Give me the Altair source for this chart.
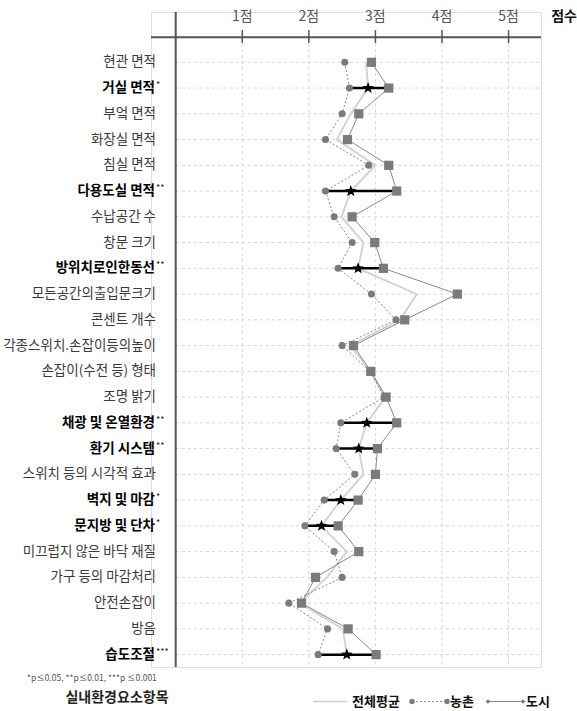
import altair as alt
import pandas as pd

# ---------------- data ----------------
items = ["현관 면적", "거실 면적", "부엌 면적", "화장실 면적", "침실 면적", "다용도실 면적",
         "수납공간 수", "창문 크기", "방위치로인한동선", "모든공간의출입문크기", "콘센트 개수",
         "각종스위치.손잡이등의높이", "손잡이(수전 등) 형태", "조명 밝기", "채광 및 온열환경",
         "환기 시스템", "스위치 등의 시각적 효과", "벽지 및 마감", "문지방 및 단차",
         "미끄럽지 않은 바닥 재질", "가구 등의 마감처리", "안전손잡이", "방음", "습도조절"]
sig = ["", "*", "", "", "", "**", "", "", "**", "", "", "", "", "", "**", "**", "",
       "*", "*", "", "", "", "", "***"]
rural = [2.54, 2.61, 2.50, 2.25, 2.90, 2.25, 2.38, 2.65, 2.44, 2.94, 3.31, 2.50,
         2.92, 3.13, 2.48, 2.41, 2.69, 2.23, 1.94, 2.38, 2.50, 1.70, 2.28, 2.14]
urban = [2.94, 3.20, 2.75, 2.58, 3.20, 3.32, 2.65, 2.99, 3.12, 4.23, 3.44, 2.67,
         2.93, 3.16, 3.32, 3.03, 3.00, 2.74, 2.44, 2.75, 2.10, 1.89, 2.59, 3.01]
overall = [2.86, 2.89, 2.63, 2.42, 3.00, 2.63, 2.49, 2.82, 2.74, 3.62, 3.37, 2.62,
           2.93, 3.15, 2.87, 2.75, 2.82, 2.48, 2.19, 2.57, 2.27, 1.86, 2.51, 2.57]
tick_values = [1, 2, 3, 4, 5]
tick_labels = ["1점", "2점", "3점", "4점", "5점"]
axis_title = "점수"
row_title = "실내환경요소항목"
note = "*p≤0.05, **p≤0.01, ***p ≤0.001"
legend_names = ["전체평균", "농촌", "도시"]

# ---------------- table ----------------
df = pd.DataFrame({"item": items, "row": list(range(len(items))), "sig": sig,
                   "rural": rural, "urban": urban, "overall": overall})
df["is_sig"] = df["sig"] != ""
df["lo"] = df[["rural", "urban"]].min(axis=1)
df["hi"] = df[["rural", "urban"]].max(axis=1)
ticks_df = pd.DataFrame({"v": tick_values, "lab": tick_labels})

X0, X1 = -0.371, 5.487
Y0, Y1 = -1.953, 23.48
AXIS_Y = -0.971
FONT = "Noto Sans CJK KR"
GREY = "#7b7b7b"

xs = alt.Scale(domain=[X0, X1], nice=False, zero=False)
ys = alt.Scale(domain=[Y0, Y1], nice=False, zero=False, reverse=True)


def X(field, **kw):
    return alt.X(field, type="quantitative", scale=xs, axis=None, **kw)


def Y(field, **kw):
    return alt.Y(field, type="quantitative", scale=ys, axis=None, **kw)


base = alt.Chart(df)
tbase = alt.Chart(ticks_df)
one = pd.DataFrame({"a": [0]})

hgrid = base.mark_rule(color="#d6d6d6", strokeDash=[3, 3], strokeWidth=1).encode(
    y=Y("row"), x=alt.X(datum=0, type="quantitative", scale=xs, axis=None),
    x2=alt.X2(datum=X1))
vgrid = tbase.mark_rule(color="#d6d6d6", strokeDash=[3, 3], strokeWidth=1).encode(
    x=X("v"), y=alt.Y(datum=AXIS_Y, type="quantitative", scale=ys, axis=None),
    y2=alt.Y2(datum=Y1))
hline = alt.Chart(one).mark_rule(color="#555555", strokeWidth=2).encode(
    x=alt.X(datum=X0, type="quantitative", scale=xs, axis=None), x2=alt.X2(datum=X1),
    y=alt.Y(datum=AXIS_Y, type="quantitative", scale=ys, axis=None))
vline = alt.Chart(one).mark_rule(color="#555555", strokeWidth=2).encode(
    x=alt.X(datum=0, type="quantitative", scale=xs, axis=None),
    y=alt.Y(datum=Y0, type="quantitative", scale=ys, axis=None), y2=alt.Y2(datum=Y1))
tickmarks = tbase.mark_rule(color="#555555", strokeWidth=1.5).encode(
    x=X("v"), y=alt.Y(datum=AXIS_Y - 0.28, type="quantitative", scale=ys, axis=None),
    y2=alt.Y2(datum=AXIS_Y + 0.22))
ticklabels = tbase.mark_text(font=FONT, fontSize=14, color="#555555", baseline="middle").encode(
    x=X("v"), y=alt.Y(datum=-1.76, type="quantitative", scale=ys, axis=None), text="lab:N")
xtitle = alt.Chart(pd.DataFrame({"t": [axis_title]})).mark_text(
    font=FONT, fontSize=14, fontWeight="bold", color="#111111", baseline="middle", align="center").encode(
    x=alt.value(413), y=alt.value(5), text="t:N")

line_all = base.mark_line(color="#d3d3d3", strokeWidth=2).encode(
    x=X("overall"), y=Y("row"), order="row:Q")
line_rural = base.mark_line(color="#8a8a8a", strokeWidth=1, strokeDash=[2, 2]).encode(
    x=X("rural"), y=Y("row"), order="row:Q")
line_urban = base.mark_line(color="#8a8a8a", strokeWidth=1).encode(
    x=X("urban"), y=Y("row"), order="row:Q")
sigbar = base.transform_filter("datum.is_sig").mark_rule(color="#000000", strokeWidth=2.5).encode(
    x=X("lo"), x2="hi:Q", y=Y("row"))
pts_rural = base.mark_point(shape="circle", filled=True, size=50, color=GREY, opacity=1).encode(
    x=X("rural"), y=Y("row"))
pts_urban = base.mark_point(shape="square", filled=True, size=85, color=GREY, opacity=1).encode(
    x=X("urban"), y=Y("row"))
STAR = ("M0,-1L0.247,-0.34L0.951,-0.309L0.399,0.13L0.588,0.809L0,0.42L-0.588,0.809"
        "L-0.399,0.13L-0.951,-0.309L-0.247,-0.34Z")
stars = base.transform_filter("datum.is_sig").mark_point(
    shape=STAR, filled=True, size=150, color="#000000", opacity=1).encode(
    x=X("overall"), y=Y("row"))

lab_norm = base.transform_filter("!datum.is_sig").mark_text(
    font=FONT, fontSize=13.5, color="#3a3a3a", align="right", baseline="middle").encode(
    x=alt.value(5), y=Y("row"), text="item:N")
lab_sig = base.transform_filter("datum.is_sig").mark_text(
    font=FONT, fontSize=13.5, fontWeight="bold", color="#000000", align="right", baseline="middle").encode(
    x=alt.value(4), y=Y("row"), text="item:N")
lab_ast = base.transform_filter("datum.is_sig").mark_text(
    font=FONT, fontSize=9, color="#222222", align="left", baseline="middle", dy=-3).encode(
    x=alt.value(5), y=Y("row"), text="sig:N")

note_t = alt.Chart(pd.DataFrame({"t": [note]})).mark_text(
    font=FONT, fontSize=8.5, color="#555555", align="left", baseline="middle").encode(
    x=alt.value(-124), y=alt.value(666), text="t:N")
rtitle = alt.Chart(pd.DataFrame({"t": [row_title]})).mark_text(
    font=FONT, fontSize=14, fontWeight="bold", color="#222222", align="center", baseline="middle").encode(
    x=alt.value(-34), y=alt.value(686), text="t:N")

LY = 689.5
leg_line1 = alt.Chart(one).mark_rule(color="#cfcfcf", strokeWidth=1.5).encode(
    x=alt.value(162), x2=alt.value(196), y=alt.value(LY))
leg_line2 = alt.Chart(one).mark_rule(color="#8a8a8a", strokeWidth=1, strokeDash=[2, 2]).encode(
    x=alt.value(261), x2=alt.value(296), y=alt.value(LY))
leg_line3 = alt.Chart(one).mark_rule(color="#8a8a8a", strokeWidth=1).encode(
    x=alt.value(337), x2=alt.value(372), y=alt.value(LY))
leg_c1 = alt.Chart(one).mark_point(shape="circle", filled=True, size=30, color=GREY, opacity=1).encode(
    x=alt.value(261), y=alt.value(LY))
leg_c2 = alt.Chart(one).mark_point(shape="circle", filled=True, size=30, color=GREY, opacity=1).encode(
    x=alt.value(296), y=alt.value(LY))
leg_d1 = alt.Chart(one).mark_point(shape="diamond", filled=True, size=22, color=GREY, opacity=1).encode(
    x=alt.value(337), y=alt.value(LY))
leg_d2 = alt.Chart(one).mark_point(shape="diamond", filled=True, size=22, color=GREY, opacity=1).encode(
    x=alt.value(372), y=alt.value(LY))
leg_df = pd.DataFrame({"t": legend_names, "px": [201, 299, 375]})
leg_txt = alt.Chart(leg_df).mark_text(font=FONT, fontSize=13, fontWeight="bold", color="#111111",
                                      align="left", baseline="middle").encode(
    x=alt.X("px:Q", scale=None, axis=None), y=alt.value(LY), text="t:N")

chart = alt.layer(
    hgrid, vgrid, hline, vline, tickmarks, ticklabels, xtitle,
    line_all, line_rural, line_urban, sigbar, pts_rural, pts_urban, stars,
    lab_norm, lab_sig, lab_ast, note_t, rtitle,
    leg_line1, leg_line2, leg_line3, leg_c1, leg_c2, leg_d1, leg_d2, leg_txt,
).properties(
    width=390, height=655,
    autosize=alt.AutoSizeParams(type="none"),
    padding={"left": 151, "top": 12, "right": 36, "bottom": 44},
).configure_view(stroke=None).configure(background="white")

chart.save("out.html", embed_options={"renderer": "svg", "actions": False})
